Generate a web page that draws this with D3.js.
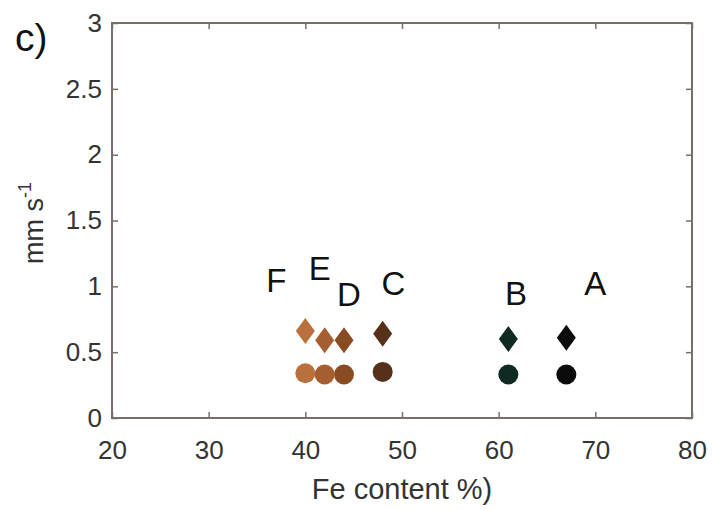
<!DOCTYPE html>
<html>
<head>
    <meta charset="utf-8">
    <title>Fe content</title>
    <script src="https://d3js.org/d3.v7.min.js"></script>
    <style>
        body {
            margin: 0;
            background: #fff;
            font-family: 'Liberation Sans', Arial, sans-serif;
        }
    </style>
</head>
<body>
    <div id="chart"></div>
    <script>
        // samples, Fe content (%) and the two measured velocities (mm/s)
        const samples = ['A', 'B', 'C', 'D', 'E', 'F']
        const feContent = [67, 61, 48, 44, 42, 40]
        const diamondValues = [0.61, 0.60, 0.64, 0.59, 0.59, 0.66]
        const circleValues = [0.33, 0.33, 0.35, 0.33, 0.33, 0.34]
        const sampleColors = ['#0b0b0b', '#0e2a22', '#57301a', '#8a4a22', '#a45e30', '#b9703d']
        // where the letters sit, in data units
        const labelX = [70.0, 61.8, 49.1, 44.5, 41.5, 37.0]
        const labelY = [0.934, 0.858, 0.934, 0.85, 1.048, 0.957]

        const xTicks = [20, 30, 40, 50, 60, 70, 80]
        const yTicks = [0, 0.5, 1, 1.5, 2, 2.5, 3]

        const w = 713, h = 510
        const margin = { top: 23, right: 21, bottom: 92, left: 112 }
        const axisColor = '#7a6e6a'
        const textColor = '#333'

        const svg = d3.select('#chart').append('svg')
            .attr('width', w)
            .attr('height', h)

        const x = d3.scaleLinear().domain([20, 80]).range([margin.left, w - margin.right])
        const y = d3.scaleLinear().domain([0, 3]).range([h - margin.bottom, margin.top])

        function styleAxis(g) {
            g.select('.domain').remove()
            g.selectAll('.tick line').attr('stroke', axisColor).attr('stroke-width', 1.5)
            g.selectAll('.tick text')
                .attr('fill', textColor)
                .style('font-size', '26px')
                .style('font-family', "'Liberation Sans', Arial, sans-serif")
        }

        svg.append('g')
            .attr('transform', 'translate(0,' + y(0) + ')')
            .call(d3.axisBottom(x).tickValues(xTicks).tickSize(-6).tickPadding(23).tickFormat(d3.format('d')))
            .call(styleAxis)
        svg.append('g')
            .attr('transform', 'translate(0,' + y(3) + ')')
            .call(d3.axisTop(x).tickValues(xTicks).tickSize(-6).tickFormat(''))
            .call(styleAxis)
        svg.append('g')
            .attr('transform', 'translate(' + x(20) + ',0)')
            .call(d3.axisLeft(y).tickValues(yTicks).tickSize(-6).tickPadding(10).tickFormat(d3.format('')))
            .call(styleAxis)
        svg.append('g')
            .attr('transform', 'translate(' + x(80) + ',0)')
            .call(d3.axisRight(y).tickValues(yTicks).tickSize(-6).tickFormat(''))
            .call(styleAxis)

        // box
        svg.append('rect')
            .attr('x', x(20))
            .attr('y', y(3))
            .attr('width', x(80) - x(20))
            .attr('height', y(0) - y(3))
            .attr('fill', 'none')
            .attr('stroke', axisColor)
            .attr('stroke-width', 2)

        const data = samples.map((s, i) => ({
            name: s, fe: feContent[i], dia: diamondValues[i], circ: circleValues[i],
            color: sampleColors[i], lx: labelX[i], ly: labelY[i]
        }))

        svg.selectAll('circle.pt')
            .data(data)
            .enter()
            .append('circle')
            .attr('class', 'pt')
            .attr('cx', d => x(d.fe))
            .attr('cy', d => y(d.circ))
            .attr('r', 10)
            .attr('fill', d => d.color)

        svg.selectAll('path.dia')
            .data(data)
            .enter()
            .append('path')
            .attr('class', 'dia')
            .attr('d', 'M0,-13L9.5,0L0,13L-9.5,0Z')
            .attr('transform', d => 'translate(' + x(d.fe) + ',' + y(d.dia) + ')')
            .attr('fill', d => d.color)

        svg.selectAll('text.lbl')
            .data(data)
            .enter()
            .append('text')
            .attr('class', 'lbl')
            .attr('x', d => x(d.lx))
            .attr('y', d => y(d.ly))
            .attr('text-anchor', 'middle')
            .style('font-size', '33px')
            .attr('fill', '#111')
            .text(d => d.name)

        svg.append('text')
            .attr('x', 402)
            .attr('y', 499)
            .attr('text-anchor', 'middle')
            .style('font-size', '29px')
            .attr('fill', textColor)
            .text('Fe content %)')

        const yl = svg.append('text')
            .attr('transform', 'translate(43,223) rotate(-90)')
            .attr('text-anchor', 'middle')
            .style('font-size', '27px')
            .attr('fill', textColor)
        yl.append('tspan').text('mm s')
        yl.append('tspan').attr('dy', -12).style('font-size', '18px').text('-1')

        svg.append('text')
            .attr('x', 15)
            .attr('y', 51)
            .style('font-size', '39px')
            .attr('fill', '#111')
            .text('c)')
    </script>
</body>
</html>
